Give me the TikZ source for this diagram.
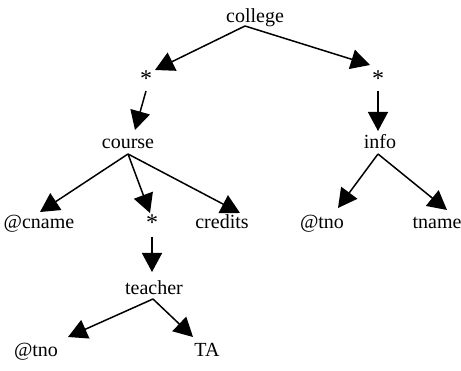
\documentclass[tikz,border=0pt]{standalone}
\usepackage{fontspec}
\setmainfont{Liberation Serif}
\usetikzlibrary{arrows.meta,calc}
\begin{document}
\begin{tikzpicture}[x=1pt,y=-1pt,
  lbl/.style={anchor=base,inner sep=0pt,font=\fontsize{20}{24}\selectfont},
  starlbl/.style={anchor=base,inner sep=0pt,font=\fontsize{24}{28}\selectfont},
  arr/.style={-{Triangle[length=19pt,width=20pt]},line width=1.5pt}]
\useasboundingbox (0,0) rectangle (461,371);
\node[lbl] (college) at (255,23) {college};
\node[starlbl] (starL) at (146,87) {*};
\node[starlbl] (starR) at (378,87) {*};
\node[lbl] (course) at (128,149) {course};
\node[lbl] (info) at (380,149) {info};
\node[lbl] (cname) at (39,229) {@cname};
\node[starlbl] (starM) at (152,231) {*};
\node[lbl] (credits) at (222,229) {credits};
\node[lbl] (tnoR) at (322,229) {@tno};
\node[lbl] (tname) at (437,229) {tname};
\node[lbl] (teacher) at (154,295) {teacher};
\node[lbl] (tnoL) at (36,357) {@tno};
\node[lbl] (TA) at (207,357) {TA};
\draw[arr] ($(college.base)+(-10,3)$) -- ($(starL.base)+(9,-17)$);
\draw[arr] ($(college.base)+(-10,3)$) -- ($(starR.base)+(-8,-22)$);
\draw[arr] ($(starL.base)+(0,4)$) -- ($(course.base)+(7,-19)$);
\draw[arr] ($(starR.base)+(0,4)$) -- ($(info.base)+(-2,-18)$);
\draw[arr] ($(course.base)+(0,5)$) -- ($(cname.base)+(1,-17)$);
\draw[arr] ($(course.base)+(0,5)$) -- ($(starM.base)+(-2,-18)$);
\draw[arr] ($(course.base)+(0,5)$) -- ($(credits.base)+(18,-16)$);
\draw[arr] ($(info.base)+(-2,5)$) -- ($(tnoR.base)+(16,-21)$);
\draw[arr] ($(info.base)+(-2,5)$) -- ($(tname.base)+(10,-19)$);
\draw[arr] ($(starM.base)+(0,6)$) -- ($(teacher.base)+(-2,-23)$);
\draw[arr] ($(teacher.base)+(-1,4)$) -- ($(tnoL.base)+(32,-20)$);
\draw[arr] ($(teacher.base)+(-1,4)$) -- ($(TA.base)+(-14,-20)$);
\end{tikzpicture}
\end{document}
